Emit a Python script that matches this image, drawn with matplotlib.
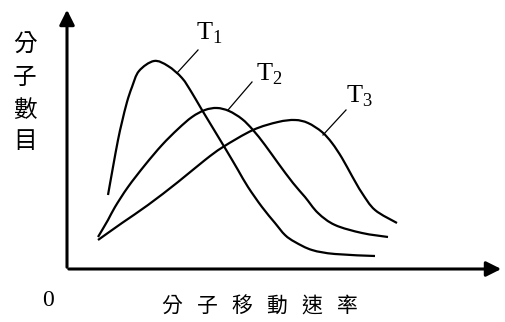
import matplotlib.pyplot as plt
from matplotlib.path import Path
from matplotlib.patches import PathPatch

plt.rcParams['font.family'] = ['Liberation Serif', 'Noto Sans CJK TC']
plt.rcParams['mathtext.fontset'] = 'custom'
plt.rcParams['mathtext.rm'] = 'Liberation Serif'

# curves: (speed, number of molecules)
t1_speed = [41, 46, 51, 55, 60, 65, 72, 87, 101, 115, 125, 135, 158, 171, 181, 195, 208, 218, 228, 245, 268, 308]
t1_count = [74, 102, 129, 147, 167, 182, 198, 208, 203, 191, 176, 159, 121, 99, 82, 62, 46, 34, 27, 19, 15, 13]

t2_speed = [31, 41, 48, 61, 78, 95, 111, 125, 138, 150, 162, 175, 186, 198, 211, 226, 238, 251, 268, 295, 321]
t2_count = [32, 49, 62, 82, 104, 124, 140, 152, 159, 161, 158, 150, 139, 124, 106, 86, 72, 56, 44, 36, 32]

t3_speed = [31, 55, 81, 111, 138, 156, 186, 211, 228, 241, 255, 265, 275, 285, 295, 308, 330]
t3_count = [29, 46, 64, 87, 109, 122, 139, 147, 149, 146, 137, 126, 111, 93, 76, 59, 46]

curve_names = ['T$_1$', 'T$_2$', 'T$_3$']
ylabel_chars = ['分', '子', '數', '目']
xlabel_chars = ['分', '子', '移', '動', '速', '率']


def smooth_path(xs, ys):
    # Catmull-Rom through the read points, drawn as cubic Bezier segments
    pts = list(zip(xs, ys))
    verts = [pts[0]]
    codes = [Path.MOVETO]
    for i in range(len(pts) - 1):
        p0 = pts[i - 1] if i > 0 else pts[i]
        p1 = pts[i]
        p2 = pts[i + 1]
        p3 = pts[i + 2] if i + 2 < len(pts) else pts[i + 1]
        c1 = (p1[0] + (p2[0] - p0[0]) / 6, p1[1] + (p2[1] - p0[1]) / 6)
        c2 = (p2[0] - (p3[0] - p1[0]) / 6, p2[1] - (p3[1] - p1[1]) / 6)
        verts += [c1, c2, p2]
        codes += [Path.CURVE4] * 3
    return Path(verts, codes)


fig = plt.figure(figsize=(5.05, 3.22), dpi=100)
ax = fig.add_axes([0, 0, 1, 1])
ax.set_xlim(-67, 438)
ax.set_ylim(-53, 269)
ax.axis('off')

# axes with arrow heads
ax.annotate('', xy=(437, 0), xytext=(-1, 0),
            arrowprops=dict(arrowstyle='-|>,head_length=0.9,head_width=0.45', color='black', lw=2.2))
ax.annotate('', xy=(0, 262), xytext=(0, -1),
            arrowprops=dict(arrowstyle='-|>,head_length=0.9,head_width=0.45', color='black', lw=2.2))

for sp, ct in [(t1_speed, t1_count), (t2_speed, t2_count), (t3_speed, t3_count)]:
    ax.add_patch(PathPatch(smooth_path(sp, ct), facecolor='none', edgecolor='black',
                           lw=1.6, capstyle='butt', joinstyle='round'))

# leader lines and labels
leaders = [((110, 196), (131, 219)), ((161, 159), (185, 187)), ((256, 134), (279, 159))]
label_pos = [(142, 236), (202, 195), (292, 173)]
for (a, b), name, pos in zip(leaders, curve_names, label_pos):
    ax.plot([a[0], b[0]], [a[1], b[1]], color='black', lw=0.9)
    ax.text(pos[0], pos[1], name, fontsize=19, ha='center', va='center')

ax.text(-19, -31, '0', fontsize=17, ha='center', va='center')

for i, ch in enumerate(ylabel_chars):
    ax.text(-42, 223 - i * 32.3, ch, fontsize=17, ha='center', va='center')

for i, ch in enumerate(xlabel_chars):
    ax.text(105 + i * 35, -38, ch, fontsize=15, ha='center', va='center')

fig.savefig('out.png', dpi=100)
